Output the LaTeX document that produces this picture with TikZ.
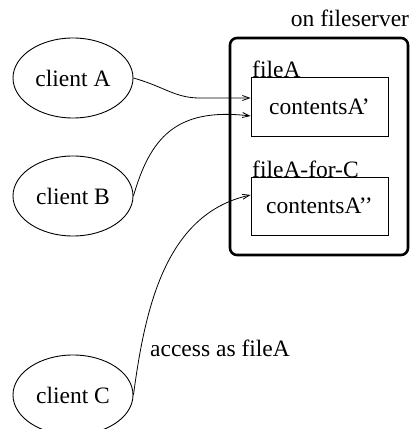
\documentclass[tikz,border=0pt]{standalone}
\usepackage{fontspec}
\setmainfont{Liberation Serif}
\usetikzlibrary{arrows.meta,shapes.geometric,calc}
\begin{document}
\begin{tikzpicture}[x=1bp,y=1bp,
  font=\fontsize{23.5bp}{28bp}\selectfont,
  client/.style={draw, line width=0.9bp, ellipse, minimum width=120bp, minimum height=80bp, inner sep=0pt},
  filebox/.style={draw, line width=0.9bp, minimum width=137bp, inner sep=0pt},
  server/.style={draw, line width=2.6bp, rounded corners=7bp},
  link/.style={line width=0.8bp, -{Straight Barb[length=7bp,width=5bp]}},
  lbl/.style={inner sep=0pt}]
\useasboundingbox (0,0) rectangle (414,429);

% clients
\node[client] (A) at (73,351) {client A};
\node[client] (B) at (73,233) {client B};
\node[client] (C) at (73,34) {client C};

% file server with its two files
\draw[server] (230,391) rectangle (408,174);
\node[lbl, anchor=base] (srv) at (350,402) {on fileserver};
\node[filebox, minimum height=59bp] (f1) at (319.5,322.5) {contentsA'};
\node[filebox, minimum height=58bp] (f2) at (319.5,223) {contentsA'{}'};
\node[lbl, anchor=base west] (n1) at (252,352) {fileA};
\node[lbl, anchor=base west] (n2) at (252,252) {fileA-for-C};

% arrow end points on the files
\coordinate (pa) at ($(f1.west)+(0,8.5)$);
\coordinate (pb) at ($(f1.west)+(0,-9.5)$);
\coordinate (pc) at ($(f2.west)+(0,11)$);

\draw[link] (A.east) .. controls (165,342) and (175,331) .. (200,331) -- (pa);
\draw[link] (B.east) .. controls (150,290) and (175,322) .. (pb);
\draw[link] (C.east) .. controls (145,120) and (165,215) .. (pc);

\node[lbl] (acc) at (220,81) {access as fileA};
\end{tikzpicture}
\end{document}
